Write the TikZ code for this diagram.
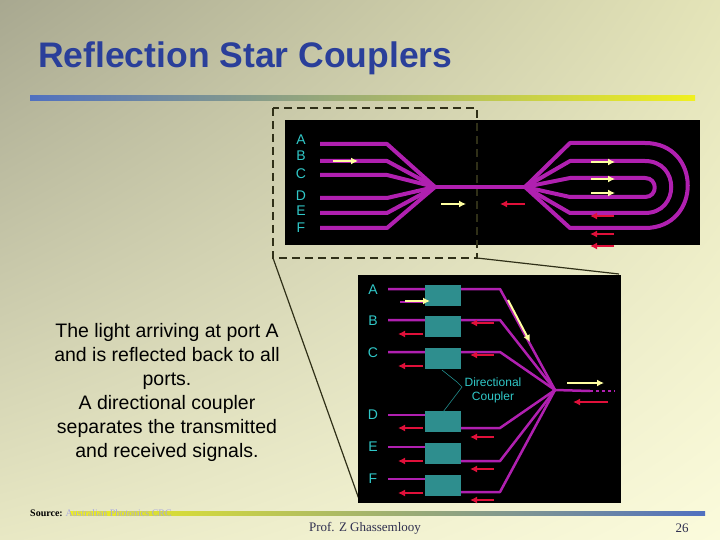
\documentclass[tikz,border=0pt]{standalone}
\usepackage{fontspec}
\setmainfont{Liberation Sans}
\newfontfamily\seriff{Liberation Serif}
\usetikzlibrary{arrows.meta,shadings}
\definecolor{tblue}{HTML}{2A3F9A}
\definecolor{fib}{HTML}{B020B0}
\definecolor{cyanl}{HTML}{30C8C8}
\definecolor{ylw}{HTML}{FFFFA0}
\definecolor{rd}{HTML}{E0103A}
\definecolor{box}{HTML}{2E8E8E}
\definecolor{bluebar}{HTML}{5070C0}
\definecolor{yelbar}{HTML}{F0F020}
\definecolor{bgul}{HTML}{A8A890}
\definecolor{bgur}{HTML}{E4E4B8}
\definecolor{bgll}{HTML}{E8E8C4}
\definecolor{bglr}{HTML}{FBFBDC}
\definecolor{linkc}{HTML}{A8A8E0}
\definecolor{foot}{HTML}{303050}
\definecolor{dk}{HTML}{303018}
\tikzset{
 fibre/.style={draw=fib,line width=4pt,line join=round},
 fibreb/.style={draw=fib,line width=2.5pt,line join=round},
 yarr/.style={draw=ylw,line width=2pt,-{Latex[length=7pt,width=7pt]}},
 rarr/.style={draw=rd,line width=2pt,-{Latex[length=7pt,width=7pt]}},
 lab/.style={text=cyanl,font=\fontsize{14}{14}\selectfont},
 cpl/.style={fill=box,draw=none},
 zoomln/.style={draw=dk,line width=1.2pt},
}
\begin{document}
\begin{tikzpicture}[x=1pt,y=-1pt]
\useasboundingbox (0,0) rectangle (720,540);
\shade[upper left=bgul,upper right=bgur,lower left=bgll,lower right=bglr] (0,0) rectangle (720,540);
\node[anchor=west,text=tblue,font=\bfseries\fontsize{35.5}{36}\selectfont,inner sep=0] (title) at (38,58) {Reflection Star Couplers};
\shade[left color=bluebar,right color=yelbar] (30,96) rectangle (695,101);
\shade[left color=yelbar,right color=bluebar] (70,511) rectangle (705,515);
% top image
\fill[black] (285,120) rectangle (700,245);
\draw[zoomln,line width=1.8pt,dash pattern=on 8pt off 5pt] (273,108) rectangle (477,258);
\coordinate (zbl) at (273,258); \coordinate (zbr) at (477,258);
\coordinate (lbl) at (360,502); \coordinate (ltr) at (619,274);
\draw[zoomln] (zbl)--(lbl);
\draw[zoomln] (zbr)--(ltr);
\foreach \l/\y in {A/140,B/156,C/174,D/196,E/211,F/228}
  \node[lab] (t\l) at (301,\y) {\l};
\foreach \y in {144,161,175,198,213,228}
  \draw[fibre] (320,\y)--(387,\y)--(435,187);
\draw[fibre] (435,187)--(525,187);
\draw[fibre] (525,187)--(570,143)--(645,143) .. controls (702,143) and (702,228) .. (645,228) -- (570,228)--(525,187);
\draw[fibre] (525,187)--(570,161)--(645,161) .. controls (680,161) and (680,213) .. (645,213) -- (570,213)--(525,187);
\draw[fibre] (525,187)--(570,178)--(645,178) .. controls (658,178) and (658,197) .. (645,197) -- (570,197)--(525,187);
\draw[yarr] (333,161)--(358,161);
\draw[yarr] (441,204)--(466,204);
\draw[rarr] (525,204)--(500,204);
\foreach \y in {162,179,193} \draw[yarr] (591,\y)--(615,\y);
\foreach \y in {216,234,246} \draw[rarr] (614,\y)--(590,\y);
% lower image
\fill[black] (358,275) rectangle (621,503);
\coordinate (cv) at (555,390);
\foreach \l/\y in {A/290,B/321,C/353,D/415,E/447,F/479}
  \node[lab] (b\l) at (373,\y) {\l};
\foreach \t/\y in {A/289,B/320,C/352}{
  \draw[fibreb] (388,\y)--(500,\y)--(cv);
  \fill[cpl] (425,\y-4) rectangle (461,\y+17);
}
\foreach \t/\y/\r in {D/415/428,E/447/461,F/479/492}{
  \draw[fibreb] (388,\y)--(425,\y);
  \draw[fibreb] (461,\r)--(500,\r)--(cv);
  \fill[cpl] (425,\y-4) rectangle (461,\y+17);
}
\draw[fibreb] (400,302)--(425,302);
\draw[fibreb] (cv)--(590,391);
\draw[draw=fib,line width=2.5pt,dash pattern=on 3pt off 3pt] (590,391)--(615,391);
\draw[yarr] (405,301)--(430,301);
\draw[yarr] (508,300)--(530,342);
\draw[yarr] (567,383)--(604,383);
\draw[rarr] (608,402)--(573,402);
\foreach \y in {334,366,428,461,493} \draw[rarr] (423,\y)--(398,\y);
\foreach \y in {323,355,437,469,500} \draw[rarr] (494,\y)--(470,\y);
\node[lab,align=center,font=\fontsize{12}{14}\selectfont] (dc) at (493,390) {Directional\\Coupler};
\draw[cyanl!70!black,line width=0.6pt] (442,370)--(457,382)--(462,387)--(443,412);
% text
\node[align=center,font=\fontsize{19.5}{24}\selectfont] (txt) at (167,392) {The light arriving at port A\\and is reflected back to all\\ports.\\A directional coupler\\separates the transmitted\\and received signals.};
\node[anchor=west,font=\seriff\bfseries\fontsize{10}{10}\selectfont,inner sep=0] (src) at (30,513) {Source:};
\node[anchor=west,font=\seriff\fontsize{10}{10}\selectfont,text=linkc,inner sep=0] (srcl) at (src.east) {\ Australian Photonics CRC};
\node[font=\seriff\fontsize{13}{13}\selectfont,text=foot] (prof) at (365,528) {Prof. Z Ghassemlooy};
\node[font=\seriff\fontsize{13}{13}\selectfont,text=foot] (pg) at (682,528) {26};
\end{tikzpicture}
\end{document}
